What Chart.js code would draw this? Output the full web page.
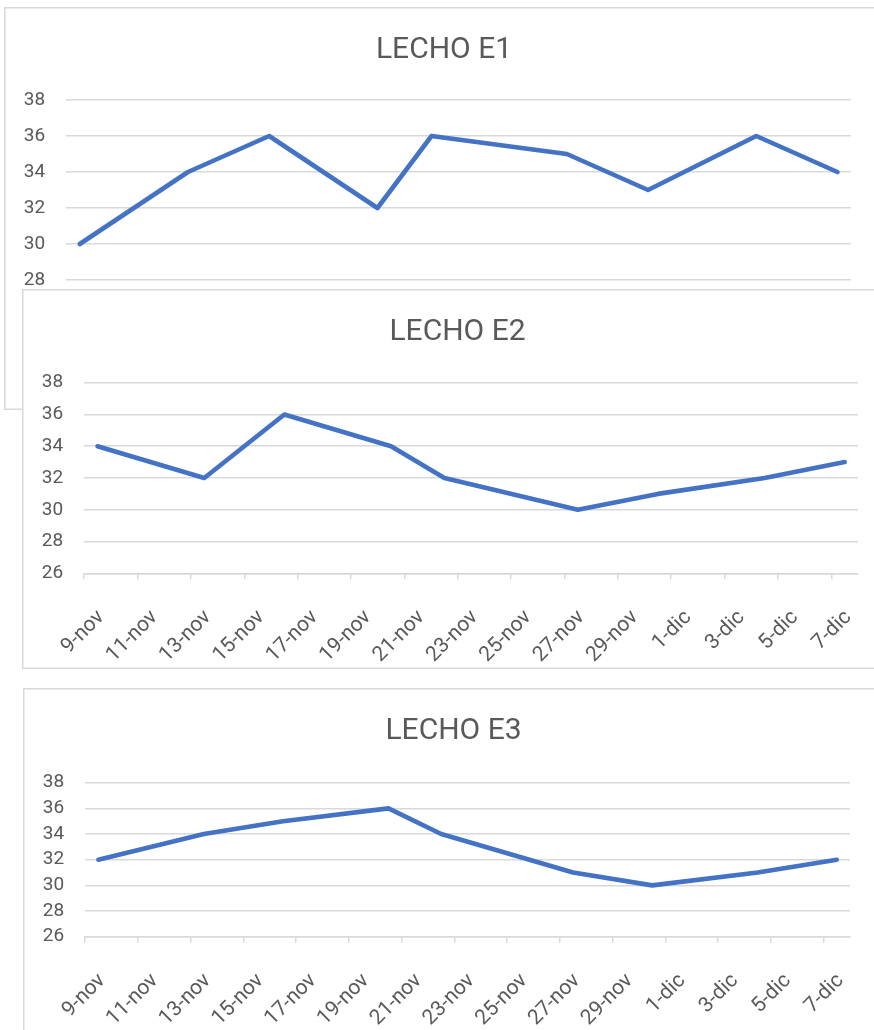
<!DOCTYPE html>
<html>
<head>
<meta charset="utf-8">
<script src="https://cdn.jsdelivr.net/npm/chart.js@4.4.1/dist/chart.umd.min.js"></script>
<style>
  html, body { margin: 0; padding: 0; background: #ffffff; overflow: hidden; width: 874px; height: 1030px; }
  .panel { position: absolute; background: #ffffff; box-shadow: inset 0 0 0 1.5px #d9d9d9; }
  .panel canvas { position: absolute; left: 0; top: 0; }
</style>
</head>
<body>
<div class="panel" id="p1" style="left:4px; top:7px; width:880px; height:403px;"><canvas id="c1" width="880" height="403"></canvas></div>
<div class="panel" id="p2" style="left:22px; top:289px; width:871px; height:380px;"><canvas id="c2" width="871" height="380"></canvas></div>
<div class="panel" id="p3" style="left:23px; top:688px; width:861px; height:360px;"><canvas id="c3" width="861" height="360"></canvas></div>
<script>
// ---- Data ----
// Dates of the measurements and their day offset from 9-nov
const pointDates = ['9-nov', '13-nov', '16-nov', '20-nov', '22-nov', '27-nov', '30-nov', '4-dic', '7-dic'];
const dayOffsets = [0, 4, 7, 11, 13, 18, 21, 25, 28];

const lechoE1 = [30, 34, 36, 32, 36, 35, 33, 36, 34];
const lechoE2 = [34, 32, 36, 34, 32, 30, 31, 32, 33];
const lechoE3 = [32, 34, 35, 36, 34, 31, 30, 31, 32];

const xTickLabels = ['9-nov', '11-nov', '13-nov', '15-nov', '17-nov', '19-nov', '21-nov', '23-nov',
                     '25-nov', '27-nov', '29-nov', '1-dic', '3-dic', '5-dic', '7-dic'];
const yTicks = [26, 28, 30, 32, 34, 36, 38];
const titles = ['LECHO E1', 'LECHO E2', 'LECHO E3'];

// ---- Styling ----
const TEXT = '#595959';
const GRID = '#d9d9d9';
const LINE = '#4472c4';
const FONT = 'Roboto';

function makeChart(canvasId, title, values, geo) {
  const data = values.map((v, i) => ({ x: dayOffsets[i] + 0.5, y: v }));
  return new Chart(document.getElementById(canvasId), {
    type: 'line',
    data: {
      datasets: [{
        label: title,
        data: data,
        borderColor: LINE,
        backgroundColor: LINE,
        borderWidth: 4.6,
        pointRadius: 0,
        pointHoverRadius: 0,
        tension: 0,
        borderJoinStyle: 'round',
        borderCapStyle: 'round',
        fill: false
      }]
    },
    options: {
      responsive: false,
      animation: false,
      devicePixelRatio: 1,
      layout: { padding: 0 },
      plugins: {
        legend: { display: false },
        tooltip: { enabled: false },
        title: {
          display: true,
          text: title,
          color: TEXT,
          font: { family: FONT, size: 30, weight: 'normal', lineHeight: 1.2 },
          padding: { top: geo.titleTop, bottom: geo.titleBottom }
        }
      },
      scales: {
        x: {
          type: 'linear',
          min: 0,
          max: 29,
          grid: { display: true, drawOnChartArea: false, drawTicks: true, tickLength: 6, color: GRID, lineWidth: 1.5 },
          border: { display: true, color: GRID, width: 1.5 },
          ticks: {
            stepSize: 2,
            includeBounds: false,
            autoSkip: false,
            minRotation: 45,
            maxRotation: 45,
            padding: 26,
            labelOffset: 17,
            color: TEXT,
            font: { family: FONT, size: 21 },
            callback: (v) => xTickLabels[Math.round(v / 2)]
          },
          afterFit: (s) => { s.height = geo.xHeight; }
        },
        y: {
          type: 'linear',
          min: yTicks[0],
          max: yTicks[yTicks.length - 1],
          grid: { display: true, drawTicks: false, color: GRID, lineWidth: 1.5 },
          border: { display: false },
          ticks: {
            stepSize: 2,
            autoSkip: false,
            padding: 21,
            color: TEXT,
            font: { family: FONT, size: 19 }
          },
          afterFit: (s) => { s.width = geo.yWidth; }
        },
        spacer: {
          type: 'linear',
          position: 'right',
          display: true,
          grid: { display: false },
          border: { display: false },
          ticks: { display: false },
          afterFit: (s) => { s.width = geo.rightWidth; }
        }
      }
    }
  });
}

makeChart('c1', titles[0], lechoE1, { titleTop: 25, titleBottom: 32, xHeight: 94, yWidth: 61, rightWidth: 33 });
makeChart('c2', titles[1], lechoE2, { titleTop: 25, titleBottom: 32.7, xHeight: 95.7, yWidth: 60.5, rightWidth: 35 });
makeChart('c3', titles[2], lechoE3, { titleTop: 25.5, titleBottom: 33.2, xHeight: 111.3, yWidth: 61, rightWidth: 34 });
</script>
</body>
</html>
